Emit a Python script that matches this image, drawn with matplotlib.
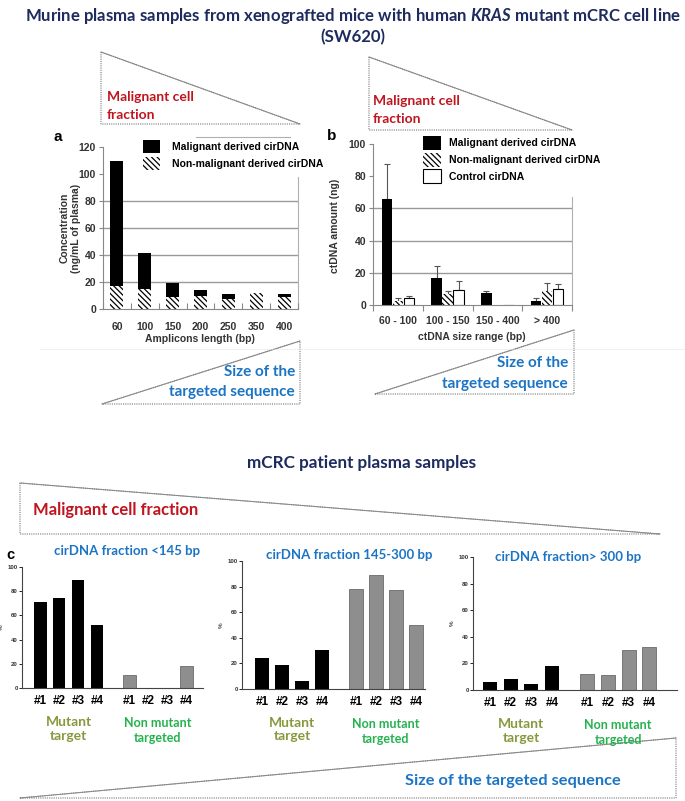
import matplotlib
matplotlib.use('Agg')
import matplotlib.pyplot as plt
from matplotlib.patches import Polygon
import numpy as np

plt.rcParams['font.family'] = ['Liberation Sans', 'DejaVu Sans']
plt.rcParams['mathtext.fontset'] = 'custom'
plt.rcParams['mathtext.it'] = 'Lato:italic:bold'
plt.rcParams['mathtext.rm'] = 'Lato:bold'
plt.rcParams['hatch.linewidth'] = 0.9

W, H = 685, 801

# panel a: xenograft, concentration by amplicon length
amplicons = ['60', '100', '150', '200', '250', '350', '400']
a_nonmalignant = [16.8, 15.0, 8.9, 9.6, 7.7, 11.9, 8.9]
a_malignant = [92.6, 26.5, 10.4, 4.4, 3.7, 0.0, 2.5]

# panel b: xenograft, amount by size range (mean, upper error)
size_ranges = ['60 - 100', '100 - 150', '150 - 400', '> 400']
b_malignant = [65.6, 16.5, 7.7, 2.5]
b_malignant_err = [22.0, 7.9, 1.2, 1.6]
b_nonmalignant = [2.5, 6.6, 0.0, 8.9]
b_nonmalignant_err = [2.0, 2.3, 0.0, 4.6]
b_control = [4.5, 9.3, 0.0, 9.7]
b_control_err = [1.0, 5.8, 0.0, 3.3]

# panel c: patients, % per fraction
patients = ['#1', '#2', '#3', '#4']
c_titles = ['cirDNA fraction <145 bp', 'cirDNA fraction 145-300 bp',
            'cirDNA fraction> 300 bp']
c_mutant = [[70.7, 74.4, 89.5, 52.0],
            [24.1, 18.4, 6.0, 30.6],
            [6.2, 8.2, 4.7, 17.9]]
c_nonmutant = [[10.5, 0.0, 0.0, 18.5],
               [78.0, 88.9, 77.2, 50.0],
               [11.7, 11.2, 30.3, 32.3]]

NAVY = '#1d2b5e'
RED = '#c0151f'
BLUE = '#1b74c4'
OLIVE = '#86993c'
GREEN = '#25b24e'
AXC = '#333333'

fig = plt.figure(figsize=(W / 100, H / 100), dpi=100)


def px_axes(x0, y0, x1, y1):
    ''' pixel box (origin top-left) -> axes '''
    ax = fig.add_axes([x0 / W, 1 - y1 / H, (x1 - x0) / W, (y1 - y0) / H])
    ax.set_facecolor('none')
    return ax


# background layer for titles and triangles, in pixel coordinates
bg = fig.add_axes([0, 0, 1, 1])
bg.set_xlim(0, W)
bg.set_ylim(H, 0)
bg.axis('off')


def triangle(pts, hyp):
    ''' dotted right triangle with a solid hypotenuse '''
    bg.add_patch(Polygon(pts, closed=True, fill=False, ec='#777777',
                         lw=0.8, ls=(0, (1, 1))))
    (x0, y0), (x1, y1) = hyp
    bg.plot([x0, x1], [y0, y1], color='#888888', lw=0.7)


title_kw = dict(ha='center', va='center', color=NAVY, fontsize=12.1,
                fontweight='bold', family='Lato')
bg.text(353, 16, r'Murine plasma samples from xenografted mice with human '
        r'$\mathit{KRAS}$ mutant mCRC cell line', **title_kw)
bg.text(353, 37, '(SW620)', **title_kw)

lab_kw = dict(fontweight='bold', family='Lato')
# top triangles (malignant cell fraction)
triangle([(101, 52), (101, 124), (300, 124)], [(101, 52), (300, 124)])
bg.text(107, 97, 'Malignant cell', color=RED, fontsize=10, va='center', **lab_kw)
bg.text(107, 115, 'fraction', color=RED, fontsize=10, va='center', **lab_kw)
triangle([(369, 57), (369, 130), (572, 130)], [(369, 57), (572, 130)])
bg.text(373, 101, 'Malignant cell', color=RED, fontsize=10, va='center', **lab_kw)
bg.text(373, 119, 'fraction', color=RED, fontsize=10, va='center', **lab_kw)

# bottom triangles (size of targeted sequence)
triangle([(102, 404), (300, 341), (300, 404)], [(102, 404), (300, 341)])
bg.text(295, 372, 'Size of the', color=BLUE, fontsize=11, ha='right', va='center', **lab_kw)
bg.text(295, 392, 'targeted sequence', color=BLUE, fontsize=11, ha='right', va='center', **lab_kw)
triangle([(375, 394), (574, 330), (574, 394)], [(375, 394), (574, 330)])
bg.text(568, 363, 'Size of the', color=BLUE, fontsize=11, ha='right', va='center', **lab_kw)
bg.text(568, 384, 'targeted sequence', color=BLUE, fontsize=11, ha='right', va='center', **lab_kw)

bg.plot([40, 685], [349, 349], color='#dddddd', lw=0.6, ls=(0, (1, 1)))

# patient section
bg.text(362, 463, 'mCRC patient plasma samples', ha='center', va='center',
        color=NAVY, fontsize=12.3, **lab_kw)
triangle([(20, 483), (20, 534), (660, 534)], [(20, 483), (660, 534)])
bg.text(33, 510, 'Malignant cell fraction', color=RED, fontsize=12, va='center', **lab_kw)
triangle([(20, 798), (676, 738), (676, 798)], [(20, 798), (676, 738)])
bg.text(513, 781, 'Size of the targeted sequence', color=BLUE, fontsize=11.8,
        ha='center', va='center', **lab_kw)

tick_kw = dict(fontsize=7.5, fontweight='bold', color=AXC)
hatch = '\\\\\\\\\\\\'

# ---------------- panel a ----------------
ax = px_axes(103, 147, 298, 309)
xa = np.arange(len(amplicons))
for g in (20, 40, 60, 80):
    ax.axhline(g, color='#9a9a9a', lw=1.0, zorder=0)
ax.plot([6.5, 6.5], [0, 98], color='#b0b0b0', lw=0.8, zorder=0, clip_on=False)
h_non = ax.bar(xa, a_nonmalignant, 0.47, color='white', edgecolor='black',
               hatch=hatch, lw=0, zorder=2)
h_mal = ax.bar(xa, a_malignant, 0.47, bottom=a_nonmalignant, color='black',
               lw=0, zorder=2)
ax.set_xlim(-0.5, 6.5)
ax.set_ylim(0, 120)
ax.set_yticks(range(0, 121, 20))
ax.set_xticks(np.arange(-0.5, 7, 1))
ax.set_xticklabels([])
ax.set_xticks(xa, amplicons, minor=True)
ax.tick_params(axis='x', which='minor', length=0, pad=9)
ax.tick_params(axis='x', which='major', length=4, direction='in', color='#888888')
ax.tick_params(axis='y', length=3, color='#888888', pad=2)
for t in ax.get_xticklabels(minor=True) + ax.get_yticklabels():
    t.set(**tick_kw)
for s in ('top', 'right'):
    ax.spines[s].set_visible(False)
for s in ('left', 'bottom'):
    ax.spines[s].set_color('#888888')
ax.legend([h_mal, h_non], ['Malignant derived cirDNA', 'Non-malignant derived cirDNA'],
          loc='upper left', bbox_to_anchor=(143 / W, 1 - 140 / H),
          bbox_transform=fig.transFigure, frameon=False, borderpad=0,
          borderaxespad=0, handlelength=1.6, handleheight=1.6,
          handletextpad=1.2, labelspacing=0.3,
          prop=dict(size=7.5, weight='bold'))
bg.plot([196, 290], [137, 137], color='#b0b0b0', lw=0.8)
bg.text(70, 228, 'Concentration\n(ng/mL of plasma)', rotation=90, ha='center',
        va='center', multialignment='center', **tick_kw)
bg.text(200, 339, 'Amplicons length (bp)', ha='center', va='center', **tick_kw)
bg.text(58, 137, 'a', fontsize=11, fontweight='bold', ha='center', va='center')

# ---------------- panel b ----------------
ax = px_axes(373, 144, 572, 305)
xb = np.arange(len(size_ranges))
for g in (20, 40, 60):
    ax.axhline(g, color='#9a9a9a', lw=1.0, zorder=0)
ax.plot([3.5, 3.5], [0, 67], color='#b0b0b0', lw=0.8, zorder=0, clip_on=False)
series = [(b_malignant, b_malignant_err, dict(color='black', lw=0)),
          (b_nonmalignant, b_nonmalignant_err, dict(color='white', edgecolor='black', hatch=hatch, lw=0)),
          (b_control, b_control_err, dict(color='white', edgecolor='black', lw=0.8))]
handles = []
for i, (vals, errs, kw) in enumerate(series):
    pos = xb + (i - 1) * 0.22
    handles.append(ax.bar(pos, vals, 0.21, zorder=2, **kw))
    vals = np.array(vals)
    errs = np.array(errs)
    m = vals > 0
    ax.errorbar(pos[m], vals[m], yerr=[np.zeros(m.sum()), errs[m]], fmt='none',
                ecolor='#555555', elinewidth=0.8, capsize=2, capthick=0.8, zorder=1)
ax.set_xlim(-0.5, 3.5)
ax.set_ylim(0, 100)
ax.set_yticks(range(0, 101, 20))
ax.set_xticks(np.arange(-0.5, 4, 1))
ax.set_xticklabels([])
ax.set_xticks(xb, size_ranges, minor=True)
ax.tick_params(axis='x', which='minor', length=0, pad=8)
ax.tick_params(axis='x', which='major', length=4, direction='out', color='#888888')
ax.tick_params(axis='y', length=3, color='#888888', pad=2)
for t in ax.get_xticklabels(minor=True) + ax.get_yticklabels():
    t.set(**tick_kw)
for s in ('top', 'right'):
    ax.spines[s].set_visible(False)
for s in ('left', 'bottom'):
    ax.spines[s].set_color('#888888')
ax.legend(handles, ['Malignant derived cirDNA', 'Non-malignant derived cirDNA', 'Control cirDNA'],
          loc='upper left', bbox_to_anchor=(423 / W, 1 - 136 / H),
          bbox_transform=fig.transFigure, frameon=False, borderpad=0,
          borderaxespad=0, handlelength=1.7, handleheight=1.7,
          handletextpad=0.8, labelspacing=0.25,
          prop=dict(size=7.5, weight='bold'))
bg.text(335, 226, 'ctDNA amount (ng)', rotation=90, ha='center', va='center', **tick_kw)
bg.text(472, 337, 'ctDNA size range (bp)', ha='center', va='center', **tick_kw)
bg.text(332, 136, 'b', fontsize=11, fontweight='bold', ha='center', va='center')

# ---------------- panel c ----------------
boxes = [(22, 567, 203, 688, -0.95, 8.58),
         (242, 561, 425, 689, -1.0, 8.15),
         (473, 557, 677, 690, -0.82, 9.04)]
title_x = [127, 349, 568]
title_y = [551, 555, 557]
xc = np.arange(len(patients))
for k, (x0, y0, x1, y1, lo, hi) in enumerate(boxes):
    ax = px_axes(x0, y0, x1, y1)
    ax.bar(xc, c_mutant[k], 0.68, color='black', lw=0)
    ax.bar(xc + 4.7, c_nonmutant[k], 0.68, color='#8e8e8e', edgecolor='#6a6a6a', lw=0.6)
    ax.set_xlim(lo, hi)
    ax.set_ylim(0, 100)
    ax.set_yticks(range(0, 101, 20))
    ax.set_xticks(np.concatenate([xc, xc + 4.7]), patients * 2)
    ax.tick_params(axis='x', length=0, pad=5, labelsize=8.5)
    ax.tick_params(axis='y', length=2, width=0.6, pad=1, labelsize=4.3)
    for t in ax.get_xticklabels():
        t.set_fontweight('bold')
    for t in ax.get_yticklabels():
        t.set(fontweight='bold', color=AXC)
    for s in ('top', 'right'):
        ax.spines[s].set_visible(False)
    for s in ('left', 'bottom'):
        ax.spines[s].set(color='#444444', lw=0.8)
    ax.set_ylabel('%', fontsize=4.5, labelpad=3)
    ax.annotate('Mutant\ntarget', xy=(xc.mean(), 0), xycoords=('data', 'axes fraction'),
                xytext=(0, -28), textcoords='offset pixels', ha='center', va='top',
                color=OLIVE, fontsize=10, linespacing=1.15, **lab_kw)
    ax.annotate('Non mutant\ntargeted', xy=(xc.mean() + 4.7, 0), xycoords=('data', 'axes fraction'),
                xytext=(0, -29), textcoords='offset pixels', ha='center', va='top',
                color=GREEN, fontsize=9, linespacing=1.3, **lab_kw)
    bg.text(title_x[k], title_y[k], c_titles[k], color=BLUE, fontsize=9.5,
            ha='center', va='center', **lab_kw)
bg.text(10, 555, 'c', fontsize=10.5, fontweight='bold', ha='center', va='center')

fig.savefig('out.png', dpi=100)
